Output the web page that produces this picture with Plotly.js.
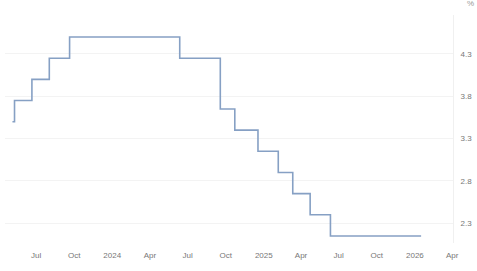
<!DOCTYPE html>
<html><head><meta charset="utf-8">
<script src="https://cdn.plot.ly/plotly-3.0.1.min.js"></script>
<style>html,body{margin:0;padding:0;background:#fff}#c{width:477px;height:271px}</style>
</head><body><div id="c"></div>
<script>
const dates = ["2023-05-05","2023-05-10","2023-06-21","2023-08-02","2023-09-20","2024-06-12","2024-09-18","2024-10-23","2024-12-18","2025-02-05","2025-03-12","2025-04-23","2025-06-11","2026-01-16"];
const rates = [3.50,3.75,4.00,4.25,4.50,4.25,3.65,3.40,3.15,2.90,2.65,2.40,2.15,2.15];
const xTickVals = ["2023-07-01","2023-10-01","2024-01-01","2024-04-01","2024-07-01","2024-10-01","2025-01-01","2025-04-01","2025-07-01","2025-10-01","2026-01-01","2026-04-01"];
const xTickText = ["Jul","Oct","2024","Apr","Jul","Oct","2025","Apr","Jul","Oct","2026","Apr"];
const yTickVals = [2.3,2.8,3.3,3.8,4.3];
const yTickText = ["2.3","2.8","3.3","3.8","4.3"];

Plotly.newPlot('c', [{
  x: dates, y: rates, type: 'scatter', mode: 'lines',
  line: {shape: 'hv', color: '#86a0c4', width: 1.6},
  hoverinfo: 'skip'
}], {
  width: 477, height: 271,
  margin: {l: 5, r: 24, t: 15, b: 28},
  paper_bgcolor: '#fff', plot_bgcolor: '#fff',
  showlegend: false,
  font: {family: 'Arial, Liberation Sans, sans-serif', size: 8, color: '#777'},
  xaxis: {
    type: 'date', range: ['2023-04-17', '2026-04-03'],
    tickvals: xTickVals, ticktext: xTickText,
    showgrid: false, zeroline: false, showline: false,
    ticks: '', ticklabelstandoff: 6, tickfont: {size: 8, color: '#777'}
  },
  yaxis: {
    side: 'right', range: [2.067, 4.76],
    tickvals: yTickVals, ticktext: yTickText,
    showgrid: true, gridcolor: '#f3f3f3', gridwidth: 1,
    zeroline: false, showline: true, linecolor: '#f0f0f0',
    ticks: '', ticklabelstandoff: 5, tickfont: {size: 8, color: '#777'}
  },
  annotations: [{
    text: '%', xref: 'paper', yref: 'paper', x: 1.04, y: 1.02,
    xanchor: 'center', yanchor: 'bottom', showarrow: false,
    font: {size: 8, color: '#999'}
  }]
}, {staticPlot: true});
</script></body></html>
